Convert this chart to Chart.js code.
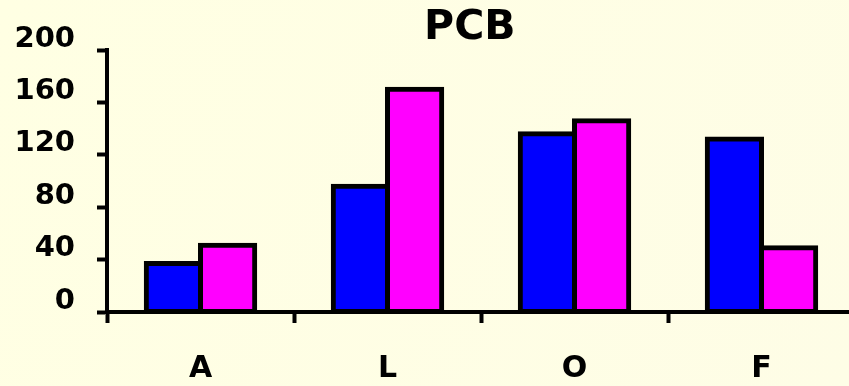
<!DOCTYPE html>
<html>
<head>
<meta charset="utf-8">
<script src="https://cdn.jsdelivr.net/npm/chart.js@4/dist/chart.umd.min.js"></script>
<style>
  html, body { margin: 0; padding: 0; overflow: hidden; background: #FEFEE6; }
  #wrap { position: relative; width: 856px; height: 386px; }
</style>
</head>
<body>
<div id="wrap"><canvas id="c"></canvas></div>
<script>
const categories = ['A', 'L', 'O', 'F'];
const seriesBlue = [37, 96, 136, 132];
const seriesMagenta = [51, 170, 146, 49];
const titleText = 'PCB';
const yMin = 0, yMax = 200, yStep = 40;

const bgPlugin = {
  id: 'bg',
  beforeDraw(chart) {
    const ctx = chart.ctx;
    const g = ctx.createLinearGradient(0, 0, chart.width, chart.height);
    g.addColorStop(0, '#FFFFE3');
    g.addColorStop(1, '#FEFDE6');
    ctx.save();
    ctx.fillStyle = g;
    ctx.fillRect(0, 0, chart.width, chart.height);
    ctx.restore();
  }
};

const titlePlugin = {
  id: 'ttl',
  afterDraw(chart) {
    const ctx = chart.ctx;
    const a = chart.chartArea;
    ctx.save();
    ctx.font = 'bold 41px "DejaVu Sans"';
    ctx.fillStyle = '#000';
    ctx.textAlign = 'center';
    ctx.textBaseline = 'alphabetic';
    ctx.fillText(titleText, a.left + a.width * 0.485, a.top - 11);
    ctx.restore();
  }
};

new Chart(document.getElementById('c'), {
  type: 'bar',
  data: {
    labels: categories,
    datasets: [
      { data: seriesBlue, backgroundColor: '#0000FF', borderColor: '#000', borderWidth: 5, borderSkipped: false, inflateAmount: 2.5 },
      { data: seriesMagenta, backgroundColor: '#FF00FF', borderColor: '#000', borderWidth: 5, borderSkipped: false, inflateAmount: 2.5 }
    ]
  },
  plugins: [bgPlugin, titlePlugin],
  options: {
    responsive: true,
    maintainAspectRatio: false,
    animation: false,
    events: [],
    layout: { padding: { top: 50, right: 1, left: 0, bottom: 0 } },
    plugins: { legend: { display: false }, title: { display: false }, tooltip: { enabled: false } },
    datasets: { bar: { categoryPercentage: 0.58, barPercentage: 1 } },
    scales: {
      x: {
        offset: true,
        grid: { offset: true, drawOnChartArea: false, drawTicks: true, tickLength: 11, tickWidth: 4, tickColor: '#000' },
        border: { display: true, color: '#000', width: 4, z: 1 },
        ticks: { color: '#000', font: { family: 'DejaVu Sans', size: 30, weight: 'bold' }, padding: 28 },
        afterFit(s) { s.height = 74; }
      },
      y: {
        min: yMin, max: yMax,
        grid: { drawOnChartArea: false, drawTicks: true, tickLength: 10, tickWidth: 4, tickColor: '#000' },
        border: { display: true, color: '#000', width: 4 },
        ticks: { stepSize: yStep, color: '#000', font: { family: 'DejaVu Sans', size: 29, weight: 'bold' }, padding: 22, labelOffset: -11 },
        afterFit(s) { s.width = 107; }
      }
    }
  }
});
</script>
</body>
</html>
